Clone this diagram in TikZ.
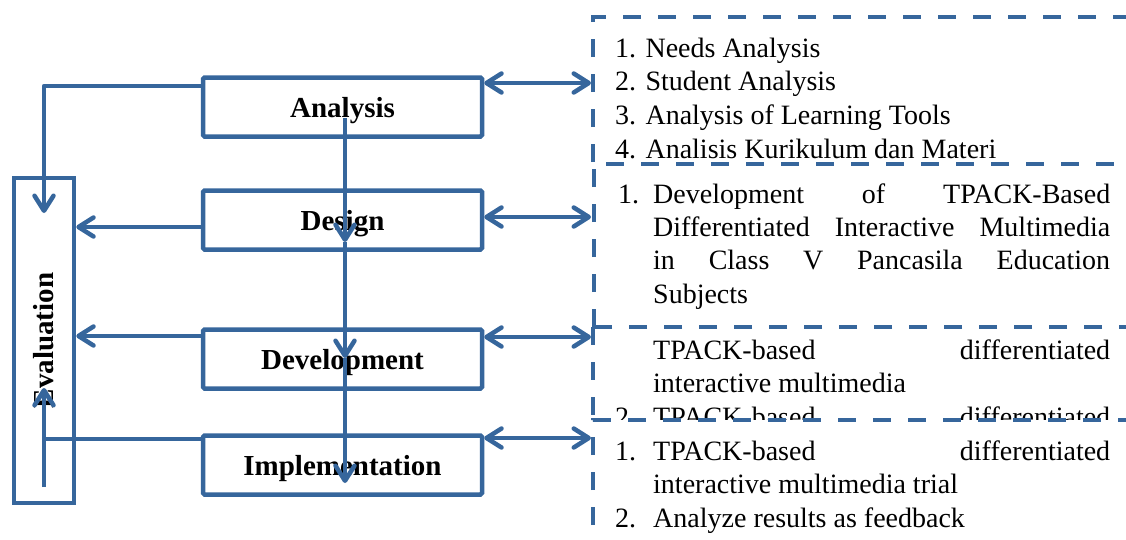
\documentclass[tikz,border=0pt]{standalone}
\usepackage{fontspec}
\setmainfont{Liberation Serif}
\usepackage{graphicx}
\usetikzlibrary{arrows.meta,calc}
\definecolor{flow}{RGB}{54,102,156}
\tikzset{
  stage/.style={draw=flow, line width=4.5pt, fill=white, rounded corners=1.5pt,
    minimum width=279pt, minimum height=59pt, inner sep=0pt,
    text height=26pt, text depth=6pt,
    font=\fontsize{29}{34}\selectfont\bfseries},
  evalbox/.style={draw=flow, line width=4.5pt, fill=white,
    minimum width=60pt, minimum height=325pt, inner sep=0pt,
    font=\fontsize{29}{34}\selectfont\bfseries},
  wire/.style={draw=flow, line width=4.5pt, line join=round},
  barb/.tip={Straight Barb[length=15pt,width=19pt,line cap=round,line join=round]},
  link/.style={wire, -barb},
  twoway/.style={wire, barb-barb},
  notebox/.style={draw=flow, line width=4.8pt, fill=white, dash pattern=on 18pt off 17pt},
  item/.style={anchor=base west, inner sep=0pt, font=\fontsize{28}{34}\selectfont},
}
\newcommand{\spreadline}[1]{\makebox[457pt][s]{#1}}
\begin{document}
\begin{tikzpicture}[x=1pt,y=-1pt]
\useasboundingbox (0,0) rectangle (1126,539);
\clip (0,0) rectangle (1126,539);

% ---- ADDIE stages ----
\node[evalbox] (eval) at (44,340.5) {\rotatebox{90}{Evaluation}};
\node[stage] (ana) at (342.5,107) {Analysis};
\node[stage] (des) at (342.5,220) {Design};
\node[stage] (dev) at (342.5,359) {Development};
\node[stage] (imp) at (342.5,465) {Implementation};

% ---- note panels (drawn back to front) ----
% analysis notes
\path[notebox] (1140,175) -- (593,175) -- (593,17) -- (1140,17);
\node[item] (a1) at (615,57)  {1. Needs Analysis};
\node[item] (a2) at (615,90)  {2. Student Analysis};
\node[item] (a3) at (615,124) {3. Analysis of Learning Tools};
\node[item] (a4) at (615,158) {4. Analisis Kurikulum dan Materi};

% development notes
\fill[white] (593,327) rectangle (1140,430);
\draw[notebox] (593,327) -- (593,430);
\node[item] (v1) at (653,359) {\spreadline{TPACK-based differentiated}};
\node[item] (v2) at (653,392) {interactive multimedia};
\node[item] (v3n) at (615,426) {2.};
\node[item] (v3) at (653,426) {\spreadline{TPACK-based differentiated}};

% design notes
\path[notebox] (594,327) rectangle (1140,164);
\node[item] (d1n) at (618,203) {1.};
\node[item] (d1) at (653,203) {\spreadline{Development of TPACK-Based}};
\node[item] (d2) at (653,236) {\spreadline{Differentiated Interactive Multimedia}};
\node[item] (d3) at (653,269) {\spreadline{in Class V Pancasila Education}};
\node[item] (d4) at (653,303) {Subjects};

% implementation notes
\path[notebox] (593,560) rectangle (1140,420);
\node[item] (i1n) at (615,460) {1.};
\node[item] (i1) at (653,460) {\spreadline{TPACK-based differentiated}};
\node[item] (i2) at (653,493) {interactive multimedia trial};
\node[item] (i3n) at (615,527) {2.};
\node[item] (i3) at (653,527) {Analyze results as feedback};

% ---- panel anchors for the links ----
\coordinate (wa) at (591,83);
\coordinate (wd) at (591,217);
\coordinate (wv) at (591,337);
\coordinate (wi) at (591,438);

% ---- two-way links to the notes ----
\draw[twoway] (ana.east |- wa) -- (wa);
\draw[twoway] (des.east |- wd) -- (wd);
\draw[twoway] (dev.east |- wv) -- (wv);
\draw[twoway] (imp.east |- wi) -- (wi);

% ---- main sequence ----
\draw[link] ($(ana.center)+(2.5,11)$) -- ($(des.center)+(2.5,22)$);
\draw[link] ($(des.center)+(2.5,22)$) -- ($(dev.center)+(2.5,-1)$);
\draw[link] ($(dev.center)+(2.5,-1)$) -- ($(imp.center)+(2.5,18)$);

% ---- feedback into evaluation ----
\coordinate (ea) at (44,213);
\coordinate (eb) at (44,487);
\coordinate (et) at (44,388);
\draw[link] (ana.west |- 0,86) -| (ea);
\draw[link] (des.west |- 0,227) -- (eval.east |- 0,227);
\draw[link] (dev.west |- 0,336) -- (eval.east |- 0,336);
\draw[wire] (imp.west |- 0,439) -- (eb |- 0,439);
\draw[link] (eb) -- (et);
\end{tikzpicture}
\end{document}
